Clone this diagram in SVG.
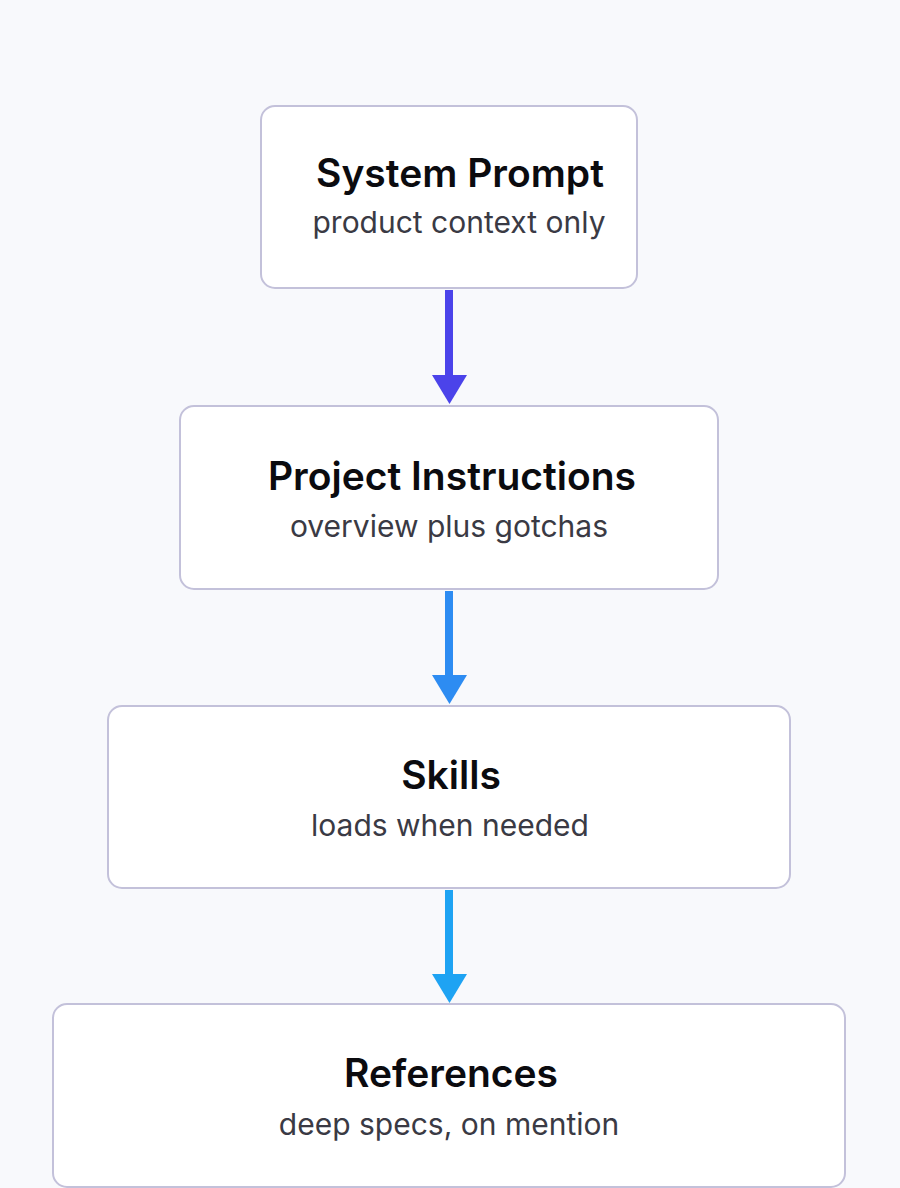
<svg xmlns="http://www.w3.org/2000/svg" width="900" height="1188" viewBox="0 0 900 1188">
<defs>
<style>
.box{fill:#ffffff;stroke:#c3c1da;stroke-width:2}
.t{font-family:Inter,"Liberation Sans",sans-serif;font-weight:600;font-size:39px;fill:#0b0b0f;text-anchor:middle}
.s{font-family:Inter,"Liberation Sans",sans-serif;font-weight:400;font-size:30px;fill:#3a3a44;text-anchor:middle}
</style>
</defs>
<rect width="900" height="1188" fill="#f8f9fc"/>
<g id="connectors">
<line x1="449" y1="290" x2="449" y2="378" stroke="#4b43ea" stroke-width="8"/>
<polygon points="432,375 467,375 449.5,404" fill="#4b43ea"/>
<line x1="449" y1="591" x2="449" y2="678" stroke="#2d8cf2" stroke-width="8"/>
<polygon points="432,675 467,675 449.5,704" fill="#2d8cf2"/>
<line x1="449" y1="890" x2="449" y2="977" stroke="#1ea3f3" stroke-width="8"/>
<polygon points="432,974 467,974 449.5,1003" fill="#1ea3f3"/>
</g>
<g id="n1">
<rect class="box" x="261" y="106" width="376" height="182" rx="14"/>
<text class="t" x="460" y="187">System Prompt</text>
<text class="s" x="459" y="233">product context only</text>
</g>
<g id="n2">
<rect class="box" x="180" y="406" width="538" height="183" rx="14"/>
<text class="t" x="452" y="490">Project Instructions</text>
<text class="s" x="449" y="537">overview plus gotchas</text>
</g>
<g id="n3">
<rect class="box" x="108" y="706" width="682" height="182" rx="14"/>
<text class="t" x="451" y="789">Skills</text>
<text class="s" x="450" y="836">loads when needed</text>
</g>
<g id="n4">
<rect class="box" x="53" y="1004" width="792" height="183" rx="14"/>
<text class="t" x="451" y="1087">References</text>
<text class="s" x="449" y="1135">deep specs, on mention</text>
</g>
</svg>
